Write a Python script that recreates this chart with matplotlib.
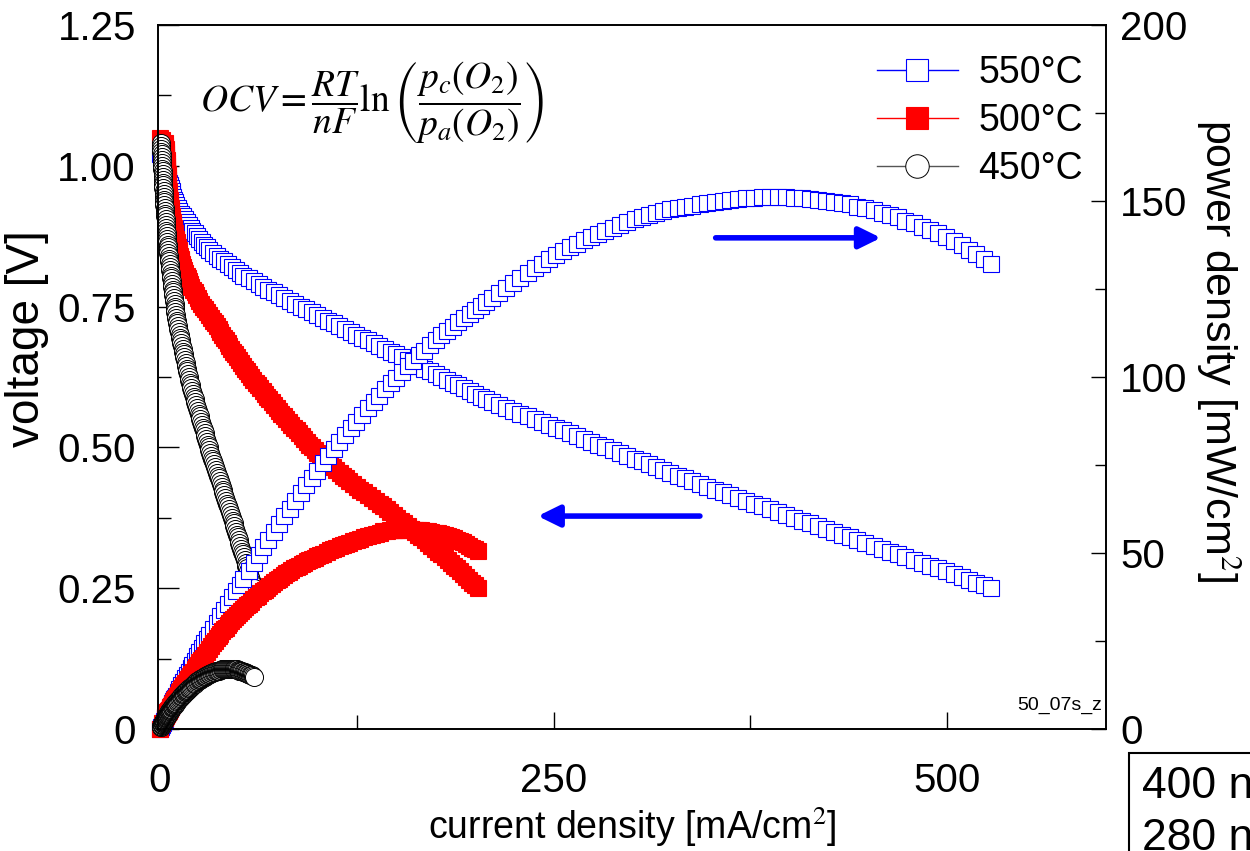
import matplotlib
matplotlib.use("Agg")
import matplotlib.pyplot as plt
from matplotlib.ticker import MultipleLocator

plt.rcParams['font.family'] = ['Liberation Sans', 'DejaVu Sans']
plt.rcParams['mathtext.fontset'] = 'stix'

# 550 C  (open blue squares), voltage [V], current density [mA/cm2], power [mW/cm2]
v550 = [1.020, 1.015, 1.010, 1.005, 1.000, 0.995, 0.990, 0.985, 0.980, 0.975,
        0.970, 0.965, 0.960, 0.955, 0.950, 0.945, 0.940, 0.935, 0.930, 0.925,
        0.920, 0.915, 0.910, 0.905, 0.900, 0.895, 0.890, 0.885, 0.880, 0.875,
        0.870, 0.865, 0.860, 0.855, 0.850, 0.845, 0.840, 0.835, 0.830, 0.825,
        0.820, 0.815, 0.810, 0.805, 0.800, 0.795, 0.790, 0.785, 0.780, 0.775,
        0.770, 0.765, 0.760, 0.755, 0.750, 0.745, 0.740, 0.735, 0.730, 0.725,
        0.720, 0.715, 0.710, 0.705, 0.700, 0.695, 0.690, 0.685, 0.680, 0.675,
        0.670, 0.665, 0.660, 0.655, 0.650, 0.645, 0.640, 0.635, 0.630, 0.625,
        0.620, 0.615, 0.610, 0.605, 0.600, 0.595, 0.590, 0.585, 0.580, 0.575,
        0.570, 0.565, 0.560, 0.555, 0.550, 0.545, 0.540, 0.535, 0.530, 0.525,
        0.520, 0.515, 0.510, 0.505, 0.500, 0.495, 0.490, 0.485, 0.480, 0.475,
        0.470, 0.465, 0.460, 0.455, 0.450, 0.445, 0.440, 0.435, 0.430, 0.425,
        0.420, 0.415, 0.410, 0.405, 0.400, 0.395, 0.390, 0.385, 0.380, 0.375,
        0.370, 0.365, 0.360, 0.355, 0.350, 0.345, 0.340, 0.335, 0.330, 0.325,
        0.320, 0.315, 0.310, 0.305, 0.300, 0.295, 0.290, 0.285, 0.280, 0.275,
        0.270, 0.265, 0.260, 0.255, 0.250]
j550 = [0.0, 0.6, 1.1, 1.7, 2.3, 2.9, 3.4, 4.0, 4.5, 5.1,
        5.6, 6.2, 6.7, 7.3, 7.8, 8.4, 8.9, 9.5, 10.0, 11.2,
        12.3, 13.5, 14.7, 15.9, 17.0, 18.2, 19.4, 20.5, 21.9, 23.5,
        25.0, 26.6, 28.2, 29.8, 31.4, 33.5, 35.9, 38.3, 40.8, 43.2,
        45.7, 48.1, 50.6, 53.0, 56.2, 59.4, 62.6, 65.7, 68.9, 72.1,
        75.4, 78.9, 82.4, 85.9, 89.4, 92.9, 96.4, 99.9, 103.4, 106.9,
        110.4, 113.9, 117.5, 121.1, 124.7, 128.4, 132.0, 135.7, 139.3, 142.9,
        146.5, 150.1, 153.7, 157.3, 160.9, 164.5, 168.0, 171.6, 175.2, 178.8,
        182.4, 185.9, 189.5, 193.1, 196.7, 200.2, 203.8, 207.4, 211.0, 215.5,
        220.0, 224.5, 229.0, 233.5, 238.0, 242.5, 247.0, 251.5, 256.0, 260.5,
        265.0, 269.5, 274.0, 278.5, 283.0, 287.5, 292.0, 296.8, 301.6, 306.1,
        310.7, 315.2, 319.8, 324.3, 328.9, 333.4, 338.0, 342.8, 347.7, 352.5,
        357.4, 362.2, 367.1, 372.0, 377.1, 382.2, 387.3, 392.3, 397.4, 402.5,
        407.6, 412.7, 417.8, 422.8, 427.9, 433.0, 438.1, 443.1, 448.2, 453.3,
        458.4, 463.5, 468.6, 473.6, 478.7, 483.8, 488.9, 494.0, 499.1, 504.2,
        509.4, 514.0, 518.6, 523.3, 528.0]
p550 = [0.0, 0.6, 1.1, 1.7, 2.3, 2.9, 3.4, 3.9, 4.4, 5.0,
        5.4, 6.0, 6.4, 7.0, 7.4, 7.9, 8.4, 8.9, 9.3, 10.4,
        11.3, 12.4, 13.4, 14.4, 15.3, 16.3, 17.3, 18.1, 19.3, 20.6,
        21.8, 23.0, 24.3, 25.5, 26.7, 28.3, 30.2, 32.0, 33.9, 35.6,
        37.5, 39.2, 41.0, 42.7, 45.0, 47.2, 49.5, 51.6, 53.7, 55.9,
        58.1, 60.4, 62.6, 64.9, 67.1, 69.2, 71.3, 73.4, 75.5, 77.5,
        79.5, 81.4, 83.4, 85.4, 87.3, 89.2, 91.1, 93.0, 94.7, 96.5,
        98.2, 99.8, 101.4, 103.0, 104.6, 106.1, 107.5, 109.0, 110.4, 111.8,
        113.1, 114.3, 115.6, 116.8, 118.0, 119.1, 120.2, 121.3, 122.4, 123.9,
        125.4, 126.8, 128.2, 129.6, 130.9, 132.2, 133.4, 134.6, 135.7, 136.8,
        137.8, 138.8, 139.7, 140.6, 141.5, 142.3, 143.1, 144.0, 144.8, 145.4,
        146.0, 146.6, 147.1, 147.6, 148.0, 148.4, 148.7, 149.1, 149.5, 149.8,
        150.1, 150.3, 150.5, 150.7, 150.8, 151.0, 151.0, 151.0, 151.0, 150.9,
        150.8, 150.6, 150.4, 150.1, 149.8, 149.4, 149.0, 148.4, 147.9, 147.3,
        146.7, 146.0, 145.3, 144.4, 143.6, 142.7, 141.8, 140.8, 139.7, 138.7,
        137.5, 136.2, 134.8, 133.4, 132.0]

# 500 C  (filled red squares)
v500 = [1.050, 1.045, 1.040, 1.035, 1.030, 1.025, 1.020, 1.015, 1.010, 1.005,
        1.000, 0.995, 0.990, 0.985, 0.980, 0.975, 0.970, 0.965, 0.960, 0.955,
        0.950, 0.945, 0.940, 0.935, 0.930, 0.925, 0.920, 0.915, 0.910, 0.905,
        0.900, 0.895, 0.890, 0.885, 0.880, 0.875, 0.870, 0.865, 0.860, 0.855,
        0.850, 0.845, 0.840, 0.835, 0.830, 0.825, 0.820, 0.815, 0.810, 0.805,
        0.800, 0.795, 0.790, 0.785, 0.780, 0.775, 0.770, 0.765, 0.760, 0.755,
        0.750, 0.745, 0.740, 0.735, 0.730, 0.725, 0.720, 0.715, 0.710, 0.705,
        0.700, 0.695, 0.690, 0.685, 0.680, 0.675, 0.670, 0.665, 0.660, 0.655,
        0.650, 0.645, 0.640, 0.635, 0.630, 0.625, 0.620, 0.615, 0.610, 0.605,
        0.600, 0.595, 0.590, 0.585, 0.580, 0.575, 0.570, 0.565, 0.560, 0.555,
        0.550, 0.545, 0.540, 0.535, 0.530, 0.525, 0.520, 0.515, 0.510, 0.505,
        0.500, 0.495, 0.490, 0.485, 0.480, 0.475, 0.470, 0.465, 0.460, 0.455,
        0.450, 0.445, 0.440, 0.435, 0.430, 0.425, 0.420, 0.415, 0.410, 0.405,
        0.400, 0.395, 0.390, 0.385, 0.380, 0.375, 0.370, 0.365, 0.360, 0.355,
        0.350, 0.345, 0.340, 0.335, 0.330, 0.325, 0.320, 0.315, 0.310, 0.305,
        0.300, 0.295, 0.290, 0.285, 0.280, 0.275, 0.270, 0.265, 0.260, 0.255,
        0.250]
j500 = [0.0, 1.5, 3.0, 3.3, 3.65, 3.8, 3.9, 4.05, 4.2, 4.35,
        4.5, 4.6, 4.7, 4.8, 4.9, 5.0, 5.1, 5.2, 5.3, 5.45,
        5.6, 5.85, 6.1, 6.35, 6.6, 6.8, 7.0, 7.25, 7.5, 7.85,
        8.2, 8.5, 8.8, 9.15, 9.5, 9.8, 10.1, 10.5, 10.9, 11.35,
        11.8, 12.25, 12.7, 13.15, 13.6, 14.15, 14.7, 15.4, 16.1, 16.85,
        17.6, 18.3, 19.0, 19.95, 20.9, 21.9, 22.9, 23.95, 25.0, 26.0,
        27.0, 28.3, 29.6, 30.9, 32.2, 33.5, 34.8, 36.0, 37.2, 38.35,
        39.5, 40.65, 41.8, 42.95, 44.1, 45.3, 46.5, 47.75, 49.0, 50.25,
        51.5, 52.75, 54.0, 55.25, 56.5, 57.9, 59.3, 60.75, 62.2, 63.65,
        65.1, 66.55, 68.0, 69.5, 71.0, 72.55, 74.1, 75.6, 77.1, 78.7,
        80.3, 81.9, 83.5, 85.15, 86.8, 88.4, 90.0, 91.65, 93.3, 94.95,
        96.6, 98.3, 100.0, 101.85, 103.7, 105.8, 107.9, 109.95, 112.0, 114.05,
        116.1, 118.2, 120.3, 122.6, 124.9, 127.35, 129.8, 132.25, 134.7, 137.15,
        139.6, 141.9, 144.2, 146.4, 148.6, 150.8, 153.0, 155.2, 157.4, 159.6,
        161.8, 163.95, 166.1, 168.2, 170.3, 172.4, 174.5, 176.6, 178.7, 180.8,
        182.9, 184.9, 186.9, 188.8, 190.7, 192.55, 194.4, 196.3, 198.2, 200.1,
        202.0]
p500 = [0.0, 1.6, 3.1, 3.4, 3.8, 3.9, 4.0, 4.1, 4.2, 4.4,
        4.5, 4.6, 4.7, 4.7, 4.8, 4.9, 4.9, 5.0, 5.1, 5.2,
        5.3, 5.5, 5.7, 5.9, 6.1, 6.3, 6.4, 6.6, 6.8, 7.1,
        7.4, 7.6, 7.8, 8.1, 8.4, 8.6, 8.8, 9.1, 9.4, 9.7,
        10.0, 10.4, 10.7, 11.0, 11.3, 11.7, 12.1, 12.6, 13.0, 13.6,
        14.1, 14.5, 15.0, 15.7, 16.3, 17.0, 17.6, 18.3, 19.0, 19.6,
        20.3, 21.1, 21.9, 22.7, 23.5, 24.3, 25.1, 25.7, 26.4, 27.0,
        27.7, 28.3, 28.8, 29.4, 30.0, 30.6, 31.2, 31.8, 32.3, 32.9,
        33.5, 34.0, 34.6, 35.1, 35.6, 36.2, 36.8, 37.4, 37.9, 38.5,
        39.1, 39.6, 40.1, 40.7, 41.2, 41.7, 42.2, 42.7, 43.2, 43.7,
        44.2, 44.6, 45.1, 45.6, 46.0, 46.4, 46.8, 47.2, 47.6, 47.9,
        48.3, 48.7, 49.0, 49.4, 49.8, 50.3, 50.7, 51.1, 51.5, 51.9,
        52.2, 52.6, 52.9, 53.3, 53.7, 54.1, 54.5, 54.9, 55.2, 55.5,
        55.8, 56.1, 56.2, 56.4, 56.5, 56.6, 56.6, 56.6, 56.7, 56.7,
        56.6, 56.6, 56.5, 56.3, 56.2, 56.0, 55.8, 55.6, 55.4, 55.1,
        54.9, 54.5, 54.2, 53.8, 53.4, 53.0, 52.5, 52.0, 51.5, 51.0,
        50.5]

# 450 C  (open black circles)
v450 = [1.040, 1.035, 1.030, 1.025, 1.020, 1.015, 1.010, 1.005, 1.000, 0.995,
        0.990, 0.985, 0.980, 0.975, 0.970, 0.965, 0.960, 0.955, 0.950, 0.945,
        0.940, 0.935, 0.930, 0.925, 0.920, 0.915, 0.910, 0.905, 0.900, 0.895,
        0.890, 0.885, 0.880, 0.875, 0.870, 0.865, 0.860, 0.855, 0.850, 0.845,
        0.840, 0.835, 0.830, 0.825, 0.820, 0.815, 0.810, 0.805, 0.800, 0.795,
        0.790, 0.785, 0.780, 0.775, 0.770, 0.765, 0.760, 0.755, 0.750, 0.745,
        0.740, 0.735, 0.730, 0.725, 0.720, 0.715, 0.710, 0.705, 0.700, 0.695,
        0.690, 0.685, 0.680, 0.675, 0.670, 0.665, 0.660, 0.655, 0.650, 0.645,
        0.640, 0.635, 0.630, 0.625, 0.620, 0.615, 0.610, 0.605, 0.600, 0.595,
        0.590, 0.585, 0.580, 0.575, 0.570, 0.565, 0.560, 0.555, 0.550, 0.545,
        0.540, 0.535, 0.530, 0.525, 0.520, 0.515, 0.510, 0.505, 0.500, 0.495,
        0.490, 0.485, 0.480, 0.475, 0.470, 0.465, 0.460, 0.455, 0.450, 0.445,
        0.440, 0.435, 0.430, 0.425, 0.420, 0.415, 0.410, 0.405, 0.400, 0.395,
        0.390, 0.385, 0.380, 0.375, 0.370, 0.365, 0.360, 0.355, 0.350, 0.345,
        0.340, 0.335, 0.330, 0.325, 0.320, 0.315, 0.310, 0.305, 0.300, 0.295,
        0.290, 0.285, 0.280, 0.275, 0.270, 0.265, 0.260, 0.255, 0.250]
j450 = [0.6, 0.7, 0.8, 0.9, 1.0, 1.1, 1.2, 1.3, 1.4, 1.5,
        1.6, 1.7, 1.8, 1.9, 1.9, 2.0, 2.1, 2.2, 2.3, 2.4,
        2.5, 2.6, 2.8, 2.9, 3.1, 3.2, 3.4, 3.5, 3.7, 3.8,
        3.9, 4.1, 4.2, 4.4, 4.5, 4.7, 4.8, 5.0, 5.1, 5.3,
        5.5, 5.7, 6.0, 6.2, 6.4, 6.6, 6.8, 7.0, 7.2, 7.5,
        7.7, 7.9, 8.1, 8.3, 8.5, 8.7, 8.9, 9.2, 9.4, 9.6,
        9.8, 10.0, 10.2, 10.6, 11.0, 11.3, 11.7, 12.1, 12.5, 12.8,
        13.2, 13.6, 14.0, 14.3, 14.7, 15.1, 15.5, 15.9, 16.3, 16.6,
        17.0, 17.4, 17.8, 18.1, 18.5, 18.9, 19.4, 19.9, 20.5, 21.0,
        21.5, 22.0, 22.5, 23.1, 23.6, 24.1, 24.6, 25.2, 25.7, 26.2,
        26.7, 27.3, 27.8, 28.3, 28.8, 29.3, 29.8, 30.4, 30.9, 31.4,
        32.0, 32.6, 33.2, 33.8, 34.4, 35.0, 35.6, 36.2, 36.8, 37.4,
        38.0, 38.6, 39.2, 39.7, 40.3, 40.9, 41.5, 42.1, 42.7, 43.3,
        43.9, 44.5, 45.1, 45.6, 46.2, 46.7, 47.3, 47.8, 48.3, 48.9,
        49.4, 49.9, 50.4, 51.0, 51.5, 52.0, 52.5, 53.1, 53.7, 54.3,
        54.9, 55.4, 56.0, 56.6, 57.2, 57.8, 58.4, 58.9, 59.5]
p450 = [0.6, 0.7, 0.8, 0.9, 1.0, 1.1, 1.2, 1.3, 1.4, 1.5,
        1.6, 1.7, 1.8, 1.9, 1.8, 1.9, 2.0, 2.1, 2.2, 2.3,
        2.4, 2.4, 2.6, 2.7, 2.9, 2.9, 3.1, 3.2, 3.3, 3.4,
        3.5, 3.6, 3.7, 3.9, 3.9, 4.1, 4.1, 4.3, 4.3, 4.5,
        4.6, 4.8, 5.0, 5.1, 5.2, 5.4, 5.5, 5.6, 5.8, 6.0,
        6.1, 6.2, 6.3, 6.4, 6.5, 6.7, 6.8, 6.9, 7.1, 7.2,
        7.3, 7.4, 7.4, 7.7, 7.9, 8.1, 8.3, 8.5, 8.8, 8.9,
        9.1, 9.3, 9.5, 9.7, 9.8, 10.0, 10.2, 10.4, 10.6, 10.7,
        10.9, 11.0, 11.2, 11.3, 11.5, 11.6, 11.8, 12.0, 12.3, 12.5,
        12.7, 12.9, 13.1, 13.3, 13.5, 13.6, 13.8, 14.0, 14.1, 14.3,
        14.4, 14.6, 14.7, 14.9, 15.0, 15.1, 15.2, 15.4, 15.5, 15.5,
        15.7, 15.8, 15.9, 16.1, 16.2, 16.3, 16.4, 16.5, 16.6, 16.6,
        16.7, 16.8, 16.9, 16.9, 16.9, 17.0, 17.0, 17.1, 17.1, 17.1,
        17.1, 17.1, 17.1, 17.1, 17.1, 17.0, 17.0, 17.0, 16.9, 16.9,
        16.8, 16.7, 16.6, 16.6, 16.5, 16.4, 16.3, 16.2, 16.1, 16.0,
        15.9, 15.8, 15.7, 15.6, 15.4, 15.3, 15.2, 15.0, 14.9]

labels = ['550°C', '500°C', '450°C']

fig = plt.figure(figsize=(12.5, 8.51), dpi=100)
ax = fig.add_axes([0.1264, 0.1434, 0.7584, 0.8273])
ax2 = ax.twinx()

blue = dict(color='#0000ff', marker='s', ms=12, mfc='white', mec='#0000ff', mew=0.8, lw=1)
red = dict(color='#ff0000', marker='s', ms=12, mfc='#ff0000', mec='#ff0000', mew=0.8, lw=1)
black = dict(color='#555555', marker='o', ms=13, mfc='white', mec='black', mew=0.7, lw=1)

# voltage on the left axis
ax.plot(j550, v550, clip_on=False, **blue)
ax.plot(j500, v500, clip_on=False, **red)
ax.plot(j450, v450, clip_on=False, **black)

# power density on the right axis
l1, = ax2.plot(j550, p550, clip_on=False, **blue)
l2, = ax2.plot(j500, p500, clip_on=False, **red)
l3, = ax2.plot(j450, p450, clip_on=False, **black)

ax.set_xlim(-1.3, 601)
ax.set_ylim(0, 1.25)
ax2.set_ylim(0, 200)

ax.xaxis.set_major_locator(MultipleLocator(250))
ax.xaxis.set_minor_locator(MultipleLocator(125))
ax.set_yticks([0, 0.25, 0.5, 0.75, 1.0, 1.25])
ax.set_yticklabels(['0', '0.25', '0.50', '0.75', '1.00', '1.25'])
ax.yaxis.set_minor_locator(MultipleLocator(0.125))
ax2.yaxis.set_major_locator(MultipleLocator(50))
ax2.yaxis.set_minor_locator(MultipleLocator(25))

ax.tick_params(axis='y', which='major', direction='in', length=15, width=1, labelsize=29, pad=16)
ax.tick_params(axis='y', which='minor', direction='in', length=9, width=1)
ax.tick_params(axis='x', which='major', direction='in', length=12, width=1, labelsize=29, pad=24)
ax.tick_params(axis='x', which='minor', direction='in', length=10, width=1)
ax2.tick_params(axis='y', which='major', direction='in', length=11, width=1, labelsize=29, pad=10)
ax2.tick_params(axis='y', which='minor', direction='in', length=8, width=1)

for a in (ax, ax2):
    for s in a.spines.values():
        s.set_linewidth(1.2)

ax.set_ylabel('voltage [V]', fontsize=33, labelpad=6, y=0.555)
ax.set_xlabel('current density [mA/cm$^2$]', fontsize=27, labelpad=3)
ax2.set_ylabel('power density [mW/cm$^2$]', fontsize=31, rotation=270, labelpad=40, y=0.538)

# direction arrows
arrow_style = dict(arrowstyle='-|>,head_length=0.65,head_width=0.32', color='#0000ff',
                   lw=4, mutation_scale=20, shrinkA=0, shrinkB=0)
ax.annotate('', xy=(458, 0.872), xytext=(353, 0.872), arrowprops=arrow_style)
ax.annotate('', xy=(240, 0.378), xytext=(343, 0.378), arrowprops=arrow_style)

ax2.legend([l1, l2, l3], labels, loc='upper left', bbox_to_anchor=(877 / 1250, 1 - 55 / 851),
           bbox_transform=fig.transFigure, frameon=False, fontsize=27, handlelength=2.15,
           handletextpad=0.55, labelspacing=0.32, borderpad=0, borderaxespad=0, markerscale=1.3)

fig.text(200 / 1250, 1 - 102 / 851,
         r'$OCV=\dfrac{RT}{nF}\ln\left(\dfrac{p_c(O_2)}{p_a(O_2)}\right)$',
         fontsize=27, ha='left', va='center')
fig.text(1102 / 1250, 1 - 705 / 851, '50_07s_z', fontsize=14, ha='right', va='center')
fig.text(1142 / 1250, 1 - 766 / 851, '400 nm\n280 nm', fontsize=32, ha='left', va='top',
         linespacing=1.35,
         bbox=dict(boxstyle='square,pad=0.3', fc='white', ec='black', lw=1.5))

fig.savefig('out.png', dpi=100)
